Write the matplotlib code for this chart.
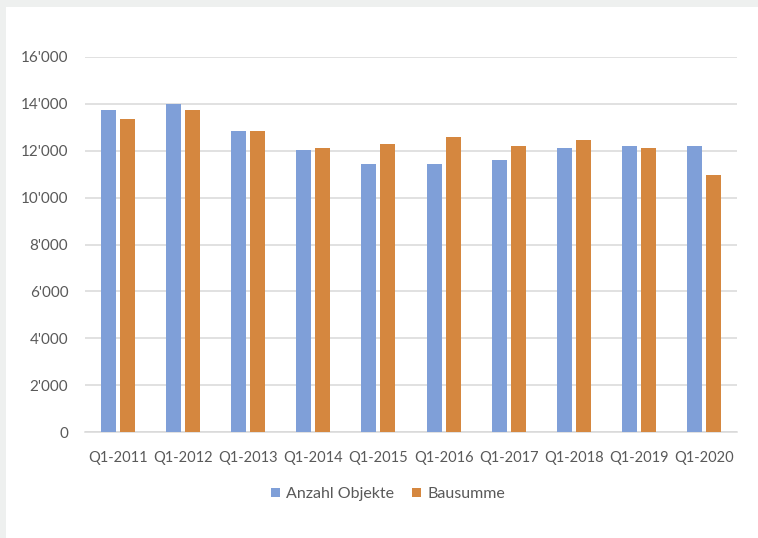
import matplotlib
matplotlib.use("Agg")
import matplotlib.pyplot as plt
import numpy as np
from matplotlib.patches import Rectangle
from matplotlib.ticker import FuncFormatter

categories = ["Q1-2011", "Q1-2012", "Q1-2013", "Q1-2014", "Q1-2015",
              "Q1-2016", "Q1-2017", "Q1-2018", "Q1-2019", "Q1-2020"]
anzahl_objekte = [13740, 13980, 12840, 12020, 11450, 11450, 11600, 12100, 12190, 12190]
bausumme = [13340, 13750, 12840, 12100, 12270, 12600, 12190, 12440, 12100, 10950]
series_names = ["Anzahl Objekte", "Bausumme"]

plt.rcParams['font.family'] = ['Lato', 'DejaVu Sans']

W, H = 758, 538
fig = plt.figure(figsize=(W / 100, H / 100), dpi=100)
fig.patch.set_facecolor('white')

# light gray frame strips (top and left)
fig.patches.append(Rectangle((0, 1 - 7 / H), 1, 7 / H, transform=fig.transFigure,
                             facecolor='#eef0ef', edgecolor='none', zorder=0))
fig.patches.append(Rectangle((0, 0), 6 / W, 1, transform=fig.transFigure,
                             facecolor='#eef0ef', edgecolor='none', zorder=0))

left, right, bottom, top = 85 / W, 737 / W, (H - 432) / H, (H - 57) / H
ax = fig.add_axes([left, bottom, right - left, top - bottom])

x = np.arange(len(categories))
w = 0.23
off = 0.146
blue = '#7F9FD8'
orange = '#D5873F'
ax.bar(x - off, anzahl_objekte, width=w, color=blue, label=series_names[0], zorder=3)
ax.bar(x + off, bausumme, width=w, color=orange, label=series_names[1], zorder=3)

ax.set_xlim(-0.5, len(categories) - 0.5)
ax.set_ylim(0, 16000)
ax.set_yticks(np.arange(0, 16001, 2000))
ax.yaxis.set_major_formatter(FuncFormatter(lambda v, p: f"{int(v):,}".replace(",", "'")))
ax.set_xticks(x)
ax.set_xticklabels(categories)

ax.grid(axis='y', color='#d9d9d9', linewidth=1.1, zorder=0)
ax.set_axisbelow(True)
for s in ['top', 'right', 'left']:
    ax.spines[s].set_visible(False)
ax.spines['bottom'].set_color('#d9d9d9')
ax.spines['bottom'].set_linewidth(1.1)
ax.tick_params(axis='both', length=0, colors='#595959')
ax.tick_params(axis='y', pad=12, labelsize=11)
ax.tick_params(axis='x', pad=14, labelsize=10.5)

leg = fig.legend(loc='center', bbox_to_anchor=(388 / W, 1 - 494 / H), ncol=2,
                 frameon=False, fontsize=11.5, handlelength=0.55, handleheight=0.55,
                 handletextpad=0.4, columnspacing=1.1)
for t in leg.get_texts():
    t.set_color('#595959')

fig.savefig('out.png', dpi=100, facecolor=fig.get_facecolor())
